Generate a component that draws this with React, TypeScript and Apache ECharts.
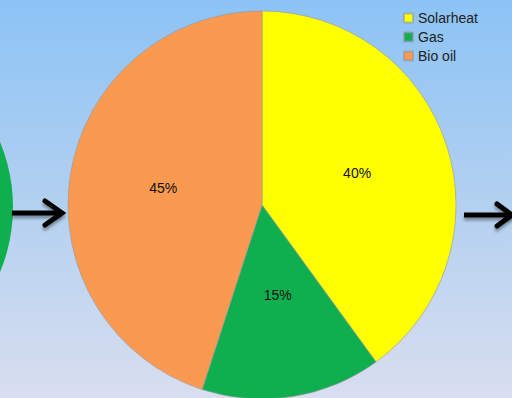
import React, { useEffect, useRef } from "react";
import * as echarts from "echarts";

const categories = ["Solarheat", "Gas", "Bio oil"];
const values = [40, 15, 45];
const colors = ["#FFFF00", "#0FAF50", "#F99A50"];

export default function App() {
  const ref = useRef<HTMLDivElement>(null);
  useEffect(() => {
    if (!ref.current) return;
    const chart = echarts.init(ref.current, undefined, { renderer: "svg" });
    const labelDy = [-1, -9, -1];
    const shadow = {
      shadowBlur: 3,
      shadowOffsetY: 3,
      shadowColor: "rgba(0,0,0,0.35)",
    };
    const headStyle = { stroke: "#000", lineWidth: 5, fill: "none", lineCap: "round", ...shadow };
    chart.setOption({
      animation: false,
      backgroundColor: new echarts.graphic.LinearGradient(0, 0, 0, 1, [
        { offset: 0, color: "#8CC3F6" },
        { offset: 0.5, color: "#B2D0F0" },
        { offset: 1, color: "#D9DEF0" },
      ]),
      legend: {
        orient: "vertical",
        left: 398,
        top: 6,
        itemWidth: 9,
        itemHeight: 9,
        itemGap: 5,
        icon: "rect",
        data: categories,
        textStyle: { fontFamily: "Liberation Sans", fontSize: 14, color: "#222" },
      },
      graphic: [
        {
          type: "circle",
          shape: { cx: -157, cy: 207, r: 170 },
          style: { fill: "#0FAF50" },
        },
        { type: "rect", shape: { x: 12, y: 210.5, width: 49, height: 5 }, style: { fill: "#000", ...shadow } },
        {
          type: "polyline",
          shape: { points: [[45, 201], [62, 213], [45, 225]] },
          style: headStyle,
        },
        { type: "rect", shape: { x: 464, y: 212.5, width: 47, height: 5 }, style: { fill: "#000", ...shadow } },
        {
          type: "polyline",
          shape: { points: [[497, 204], [512, 215], [497, 226]] },
          style: headStyle,
        },
      ],
      series: [
        {
          type: "pie",
          center: [262, 205],
          radius: [0, 194],
          startAngle: 90,
          clockwise: true,
          avoidLabelOverlap: false,
          itemStyle: {
            borderColor: "rgba(150,150,160,0.6)",
            borderWidth: 1,
          },
          label: {
            show: true,
            position: "inside",
            formatter: "{d}%",
            fontFamily: "Liberation Sans",
            fontSize: 14,
            color: "#111",
          },
          labelLine: { show: false },
          labelLayout: (params: any) => ({ dy: labelDy[params.dataIndex] }),
          emphasis: { disabled: true },
          data: categories.map((name, i) => ({
            name,
            value: values[i],
            itemStyle: { color: colors[i] },
          })),
        },
      ],
    });
    return () => chart.dispose();
  }, []);
  return (
    <div
      ref={ref}
      style={{ position: "absolute", left: 0, top: 0, width: 512, height: 398 }}
    />
  );
}
